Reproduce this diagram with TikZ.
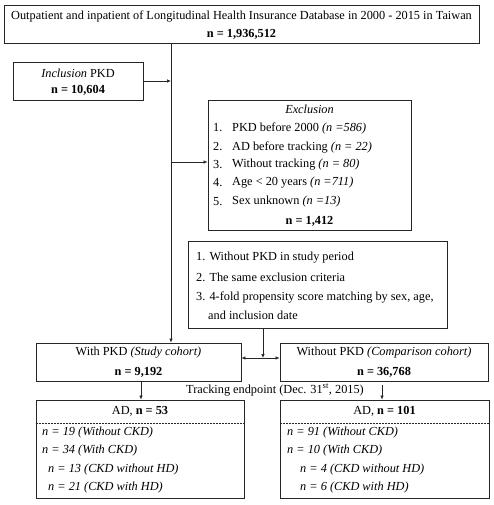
\documentclass[tikz,border=0pt]{standalone}
\usepackage{fontspec}
\setmainfont{Liberation Serif}
\usetikzlibrary{arrows.meta,calc}
\begin{document}
\begin{tikzpicture}[x=1pt,y=-1pt,
  box/.style={draw=black!85,line width=0.8pt,inner sep=0pt},
  txt/.style={inner sep=0pt,font=\fontsize{12.3}{14}\selectfont},
  ltxt/.style={txt,anchor=west},
  conn/.style={draw=black!85,line width=0.7pt},
  arr/.style={conn,-{Latex[length=4pt,width=3.5pt]}},
  darr/.style={conn,{Latex[length=4pt,width=3.5pt]}-{Latex[length=4pt,width=3.5pt]}}]
\useasboundingbox (0,0) rectangle (493,505);
% boxes
\node[box,minimum width=475pt,minimum height=38pt] (top) at (241.5,24) {};
\node[box,minimum width=130pt,minimum height=38pt] (inc) at (78,81) {};
\node[box,minimum width=203pt,minimum height=130pt] (exc) at (309.5,165) {};
\node[box,minimum width=259pt,minimum height=87pt] (crit) at (317.5,284.5) {};
\node[box,minimum width=205pt,minimum height=38pt] (with) at (138.5,362) {};
\node[box,minimum width=208pt,minimum height=38pt] (wo) at (384,362) {};
\node[box,minimum width=208pt,minimum height=98pt] (adl) at (140,449) {};
\node[box,minimum width=209pt,minimum height=98pt] (adr) at (384.5,449) {};
% texts
\node[txt] (t1) at (241.5,16) {Outpatient and inpatient of Longitudinal Health Insurance Database in 2000 - 2015 in Taiwan};
\node[txt] (t2) at (241.5,34) {\textbf{n = 1,936,512}};
\node[txt] (i1) at (78,73) {\textit{Inclusion} PKD};
\node[txt] (i2) at (78,90) {\textbf{n = 10,604}};
\node[txt] (e0) at (309.5,109) {\textit{Exclusion}};
\node[ltxt] (e1n) at (213,128) {1.};
\node[ltxt] (e1) at (232,128) {PKD before 2000 \textit{(n =586)}};
\node[ltxt] (e2n) at (213,147) {2.};
\node[ltxt] (e2) at (232,147) {AD before tracking \textit{(n = 22)}};
\node[ltxt] (e3n) at (213,165) {3.};
\node[ltxt] (e3) at (232,165) {Without tracking \textit{(n = 80)}};
\node[ltxt] (e4n) at (213,183) {4.};
\node[ltxt] (e4) at (232,183) {Age < 20 years \textit{(n =711)}};
\node[ltxt] (e5n) at (213,202) {5.};
\node[ltxt] (e5) at (232,202) {Sex unknown \textit{(n =13)}};
\node[txt] (e6) at (309.5,221) {\textbf{n = 1,412}};
\node[ltxt] (c1) at (196,258) {1. Without PKD in study period};
\node[ltxt] (c2) at (196,277) {2. The same exclusion criteria};
\node[ltxt] (c3) at (196,297) {3. 4-fold propensity score matching by sex, age,};
\node[ltxt] (c4) at (208,315) {and inclusion date};
\node[txt] (w1) at (138.5,353) {With PKD \textit{(Study cohort)}};
\node[txt] (w2) at (138.5,372) {\textbf{n = 9,192}};
\node[txt] (o1) at (384,353) {Without PKD \textit{(Comparison cohort)}};
\node[txt] (o2) at (384,372) {\textbf{n = 36,768}};
\node[txt] (tr) at (275,390) {Tracking endpoint (Dec. 31\textsuperscript{st}, 2015)};
\node[txt] (l0) at (140,411) {AD, \textbf{n = 53}};
\node[ltxt] (l1) at (42,433) {\textit{n = 19 (Without CKD)}};
\node[ltxt] (l2) at (42,451) {\textit{n = 34 (With CKD)}};
\node[ltxt] (l3) at (48,470) {\textit{n = 13 (CKD without HD)}};
\node[ltxt] (l4) at (48,488) {\textit{n = 21 (CKD with HD)}};
\node[txt] (r0) at (384.5,411) {AD, \textbf{n = 101}};
\node[ltxt] (r1) at (287,433) {\textit{n = 91 (Without CKD)}};
\node[ltxt] (r2) at (287,451) {\textit{n = 10 (With CKD)}};
\node[ltxt] (r3) at (300,470) {\textit{n = 4 (CKD without HD)}};
\node[ltxt] (r4) at (300,488) {\textit{n = 6 (CKD with HD)}};
% dashed separators
\draw[conn,dashed,dash pattern=on 2pt off 1pt] (adl.west |- 0,423) -- (adl.east |- 0,423);
\draw[conn,dashed,dash pattern=on 2pt off 1pt] (adr.west |- 0,423) -- (adr.east |- 0,423);
% connectors
\coordinate (mx) at (171,0);
\draw[arr] (top.south -| mx) -- (with.north -| mx);
\draw[arr] (inc.east) -- (inc.east -| mx);
\draw[arr] (exc.west |- 0,162) ++(-37,0) -- (exc.west |- 0,162);
\coordinate (cx) at (263,0);
\draw[darr] (with.east |- 0,358) -- (wo.west |- 0,358);
\draw[arr] (crit.south -| cx) -- (cx |- 0,358);
\draw[arr] (with.south -| 141,0) -- (adl.north -| 141,0);
\draw[arr] ($(wo.south -| 382,0)+(0,4)$) -- (adr.north -| 382,0);
\end{tikzpicture}
\end{document}
